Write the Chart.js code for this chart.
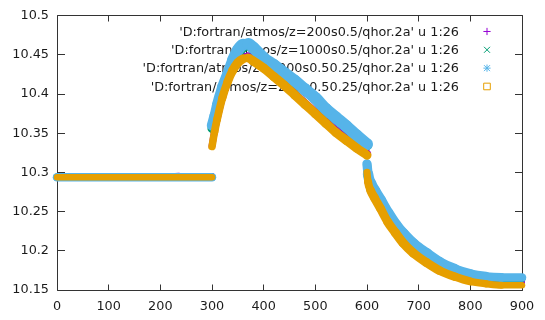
<!DOCTYPE html>
<html>
<head>
<meta charset="utf-8">
<script src="https://cdn.jsdelivr.net/npm/chart.js@4.4.0/dist/chart.umd.min.js"></script>
<style>
  html, body { margin: 0; padding: 0; background: #ffffff; }
  #wrap { width: 545px; height: 320px; }
</style>
</head>
<body>
<div id="wrap"><canvas id="c" width="545" height="320"></canvas></div>
<script>
// qhor column 26 against column 1 for four runs
const seriesLabels = [
  "'D:fortran/atmos/z=200s0.5/qhor.2a' u 1:26",
  "'D:fortran/atmos/z=1000s0.5/qhor.2a' u 1:26",
  "'D:fortran/atmos/z=1000s0.50.25/qhor.2a' u 1:26",
  "'D:fortran/atmos/z=200s0.50.25/qhor.2a' u 1:26"
];

// shared abscissa; null values in the series mark breaks in the record
const xValues = [0, 100, 200, 236, 300, 300, 300, 305, 310, 320, 330, 340, 350, 360, 370, 380,
  400, 420, 440, 460, 480, 500, 520, 540, 560, 580, 600, 600, 600, 602, 607, 615, 626, 640,
  655, 670, 690, 715, 740, 770, 800, 830, 860, 900];

const qhorZ200 = [10.294, 10.294, 10.294, 10.2955, 10.2955, null, 10.334, 10.353, 10.369, 10.396,
  10.416, 10.432, 10.443, 10.448, 10.448, 10.443, 10.434, 10.423, 10.412, 10.400, 10.388, 10.376,
  10.364, 10.353, 10.343, 10.333, 10.324, null, 10.301, 10.289, 10.278, 10.268, 10.255, 10.238,
  10.224, 10.211, 10.198, 10.186, 10.176, 10.168, 10.163, 10.161, 10.160, 10.160];

const qhorZ1000 = [10.294, 10.294, 10.294, 10.294, 10.294, null, 10.356, 10.369, 10.383, 10.405,
  10.422, 10.440, 10.453, 10.460, 10.462, 10.458, 10.445, 10.436, 10.426, 10.416, 10.405, 10.394,
  10.380, 10.369, 10.358, 10.346, 10.335, null, 10.310, 10.297, 10.285, 10.275, 10.263, 10.247,
  10.232, 10.220, 10.207, 10.195, 10.184, 10.175, 10.169, 10.166, 10.165, 10.165];

const qhorZ1000q = [10.294, 10.294, 10.294, 10.294, 10.294, null, 10.360, 10.372, 10.386, 10.408,
  10.425, 10.443, 10.456, 10.463, 10.464, 10.459, 10.446, 10.437, 10.427, 10.417, 10.406, 10.395,
  10.381, 10.370, 10.359, 10.347, 10.336, null, 10.311, 10.298, 10.286, 10.276, 10.264, 10.248,
  10.233, 10.221, 10.208, 10.196, 10.185, 10.176, 10.170, 10.167, 10.166, 10.166];

const qhorZ200q = [10.294, 10.294, 10.294, 10.294, 10.294, null, 10.333, 10.352, 10.368, 10.395,
  10.415, 10.430, 10.440, 10.445, 10.446, 10.442, 10.433, 10.422, 10.411, 10.399, 10.387, 10.375,
  10.363, 10.351, 10.341, 10.331, 10.322, null, 10.300, 10.288, 10.277, 10.267, 10.254, 10.237,
  10.223, 10.210, 10.197, 10.185, 10.175, 10.167, 10.161, 10.158, 10.156, 10.156];

const xTicks = [0, 100, 200, 300, 400, 500, 600, 700, 800, 900];
const yTicks = [10.15, 10.2, 10.25, 10.3, 10.35, 10.4, 10.45, 10.5];

const seriesValues = [qhorZ200, qhorZ1000, qhorZ1000q, qhorZ200q];
const seriesColors = ['#9400d3', '#009e73', '#56b4e9', '#e69f00'];
const markerSizes = [6, 7.5, 8.5, 6.5];
const markerKinds = ['plus', 'cross', 'star', 'square'];

const FONT = '12.8px "DejaVu Sans"';
const INK = '#1a1a1a';

// dense point markers widen the trace on slopes; mimic that envelope
function envelopeWidth(base) {
  return (ctx) => {
    const dx = Math.abs(ctx.p1.x - ctx.p0.x);
    const dy = Math.abs(ctx.p1.y - ctx.p0.y);
    const h = Math.hypot(dx, dy);
    return h === 0 ? base : base * (dx + dy) / h;
  };
}

const datasets = seriesValues.map((vals, i) => ({
  label: seriesLabels[i],
  data: xValues.map((x, k) => ({ x: x, y: vals[k] })),
  borderColor: seriesColors[i],
  backgroundColor: seriesColors[i],
  borderWidth: markerSizes[i],
  borderCapStyle: 'round',
  borderJoinStyle: 'round',
  pointRadius: 0,
  pointHitRadius: 0,
  showLine: true,
  spanGaps: false,
  cubicInterpolationMode: 'monotone',
  clip: false,
  order: 4 - i,
  segment: { borderWidth: envelopeWidth(markerSizes[i]) }
}));

function drawMarker(ctx, kind, cx, cy, color) {
  ctx.save();
  ctx.strokeStyle = color;
  ctx.lineWidth = 1;
  ctx.beginPath();
  const r = 3.6, d = 3.0;
  if (kind === 'plus' || kind === 'star') {
    ctx.moveTo(cx - r, cy); ctx.lineTo(cx + r, cy);
    ctx.moveTo(cx, cy - r); ctx.lineTo(cx, cy + r);
  }
  if (kind === 'cross' || kind === 'star') {
    ctx.moveTo(cx - d, cy - d); ctx.lineTo(cx + d, cy + d);
    ctx.moveTo(cx - d, cy + d); ctx.lineTo(cx + d, cy - d);
  }
  if (kind === 'square') {
    ctx.rect(cx - 3.3, cy - 3.3, 6.6, 6.6);
  }
  ctx.stroke();
  ctx.restore();
}

// border, inward tics and the key sit underneath the traces
const frameAndKey = {
  id: 'frameAndKey',
  beforeDatasetsDraw(chart) {
    const { ctx, chartArea: a, scales } = chart;
    const L = Math.floor(a.left) + 0.5, R = Math.floor(a.right) + 0.5;
    const T = Math.floor(a.top) + 0.5, B = Math.floor(a.bottom) + 0.5;
    ctx.save();
    ctx.strokeStyle = '#333333';
    ctx.lineWidth = 1;
    ctx.beginPath();
    ctx.rect(L, T, R - L, B - T);
    scales.x.ticks.forEach(t => {
      const px = Math.floor(scales.x.getPixelForValue(t.value)) + 0.5;
      ctx.moveTo(px, B); ctx.lineTo(px, B - 6);
      ctx.moveTo(px, T); ctx.lineTo(px, T + 6);
    });
    scales.y.ticks.forEach(t => {
      const py = Math.floor(scales.y.getPixelForValue(t.value)) + 0.5;
      ctx.moveTo(L, py); ctx.lineTo(L + 7.5, py);
      ctx.moveTo(R, py); ctx.lineTo(R - 7.5, py);
    });
    ctx.stroke();

    ctx.font = FONT;
    ctx.fillStyle = INK;
    ctx.textAlign = 'right';
    ctx.textBaseline = 'alphabetic';
    seriesLabels.forEach((txt, i) => {
      const base = a.top + 20 + i * 18.33;
      ctx.fillText(txt, a.right - 63, base);
      drawMarker(ctx, markerKinds[i], a.right - 35, base - 4.2, seriesColors[i]);
    });
    ctx.restore();
  }
};

new Chart(document.getElementById('c'), {
  type: 'scatter',
  data: { datasets: datasets },
  options: {
    responsive: false,
    devicePixelRatio: 1,
    animation: false,
    events: [],
    layout: { padding: { left: 0, right: 23, top: 10, bottom: 0 } },
    plugins: {
      legend: { display: false },
      tooltip: { enabled: false }
    },
    scales: {
      x: {
        type: 'linear',
        min: 0,
        max: 900,
        afterBuildTicks: s => { s.ticks = xTicks.map(v => ({ value: v })); },
        afterFit: s => { s.height = 30; },
        grid: { display: false, drawTicks: false },
        border: { display: false },
        ticks: {
          padding: 9,
          color: INK,
          font: { family: 'DejaVu Sans', size: 12.8 },
          maxRotation: 0,
          callback: v => String(v)
        }
      },
      y: {
        type: 'linear',
        min: 10.15,
        max: 10.5,
        afterBuildTicks: s => { s.ticks = yTicks.map(v => ({ value: v })); },
        afterFit: s => { s.width = 57; },
        grid: { display: false, drawTicks: false },
        border: { display: false },
        ticks: {
          padding: 8,
          color: INK,
          font: { family: 'DejaVu Sans', size: 12.8 },
          callback: v => String(v)
        }
      }
    }
  },
  plugins: [frameAndKey]
});
</script>
</body>
</html>
